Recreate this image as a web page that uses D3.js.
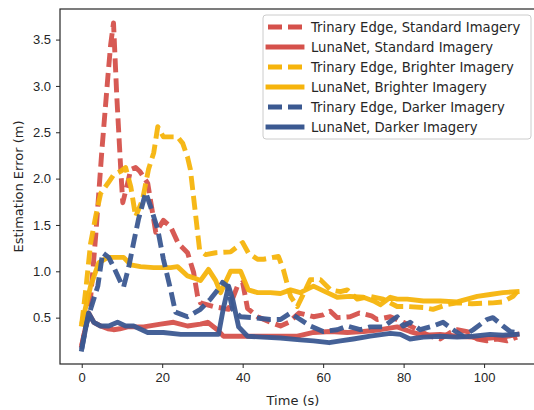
<!DOCTYPE html>
<html>
<head>
<meta charset="utf-8">
<script src="https://cdn.jsdelivr.net/npm/d3@7"></script>
<style>
	body { margin: 0; background: #fff; }
	svg { display: block; font-family: "DejaVu Sans", sans-serif; }
	.axis text { font-size: 13px; fill: #262626; }
	.axis line { stroke: #262626; }
	.axis path { display: none; }
</style>
</head>
<body>
<svg id="chart" width="534" height="410"></svg>
<script>
'use strict';

// [time (s), estimation error (m)]
var trinaryStandard = [[0,0.2],[2,0.6],[3.5,1.4],[5,2.3],[6.5,3.1],[7.2,3.45],[7.9,3.68],[8.7,2.9],[9.7,2.1],
	[10.2,1.74],[11.4,1.95],[12.2,2.1],[13.4,2.12],[14.4,2.08],[16.4,1.95],[18.4,1.42],[20.3,1.55],[22.1,1.48],
	[24,1.3],[26.3,1.2],[27.8,0.99],[28.8,0.73],[29.5,0.66],[32.8,0.62],[36.5,0.59],[38.7,0.84],[40,0.88],
	[41.2,0.6],[43.7,0.51],[46.9,0.45],[49.4,0.41],[51.5,0.45],[54,0.55],[57.6,0.51],[60,0.53],[61.8,0.57],
	[63.5,0.5],[66.7,0.51],[69,0.55],[72,0.52],[73.4,0.48],[76.7,0.51],[79.9,0.45],[83.4,0.37],[86.6,0.3],
	[89.1,0.27],[91.6,0.34],[93.3,0.37],[95.8,0.35],[98.3,0.27],[100.7,0.25],[103.2,0.27],[105.7,0.25],[108.2,0.29]];

var lunaStandard = [[0,0.2],[1.7,0.55],[3,0.45],[4.7,0.41],[6.5,0.38],[7.9,0.37],[9.5,0.38],[11.4,0.4],
	[15.4,0.4],[19.6,0.43],[22.8,0.45],[26.3,0.41],[29.5,0.43],[31.3,0.45],[33.7,0.37],[35.2,0.3],[39.5,0.3],
	[45,0.3],[53.6,0.3],[57.6,0.34],[61.8,0.35],[66,0.34],[70,0.35],[74.2,0.37],[78.4,0.4],[81.6,0.35],
	[84.9,0.31],[89.1,0.32],[93.3,0.3],[97,0.29],[99,0.27],[101.5,0.28],[104.7,0.29],[108.2,0.32]];

var trinaryBright = [[0,0.43],[1,0.8],[2.2,1.3],[3.5,1.6],[4.7,1.84],[6.5,1.95],[7.9,2.04],[9.7,2.08],
	[10.9,2.12],[12.2,1.91],[13.4,1.59],[15.1,1.77],[16.6,2.1],[17.9,2.28],[18.9,2.56],[20.3,2.45],[23.8,2.45],
	[25.1,2.38],[26.3,2.23],[27,2.1],[27.8,1.8],[28.8,1.42],[29.3,1.23],[30.8,1.18],[33.3,1.2],[37,1.21],
	[40,1.31],[41.4,1.2],[43.7,1.13],[45.2,1.13],[47.6,1.15],[48.9,1.16],[50.1,1.02],[51.9,0.73],[53.6,0.62],
	[56.8,0.91],[59.3,0.91],[61.8,0.8],[64.3,0.78],[66,0.8],[68.5,0.7],[71.7,0.73],[74.9,0.7],[78.4,0.62],
	[80.9,0.62],[84.9,0.61],[87.3,0.59],[90.8,0.64],[93.3,0.66],[97,0.65],[102.2,0.66],[104.7,0.67],
	[107.2,0.73],[108.2,0.78]];

var lunaBright = [[0,0.43],[2.2,0.84],[4.2,1.09],[6.5,1.15],[8.9,1.15],[10.4,1.15],[12.2,1.07],[14.6,1.05],
	[17.9,1.04],[22.1,1.04],[23.8,1.05],[26.3,0.95],[27.8,0.93],[29.5,0.9],[31.5,1.02],[33.3,0.9],[34.5,0.77],
	[35.7,0.88],[37,1.0],[39.5,1.0],[41.4,0.8],[43.7,0.77],[46.9,0.77],[49.4,0.76],[51.9,0.8],[54.3,0.77],
	[57.6,0.84],[61,0.77],[63.5,0.72],[66.7,0.73],[70,0.72],[72.5,0.68],[74.2,0.64],[76.7,0.72],[78.4,0.7],
	[80.9,0.7],[84.9,0.68],[89.1,0.68],[93.3,0.67],[95.8,0.7],[98.3,0.73],[101.5,0.75],[104.7,0.77],[108.2,0.78]];

var trinaryDark = [[0,0.16],[1,0.4],[2.2,0.59],[4,0.84],[5.2,1.2],[6.7,1.15],[7.9,1.05],[9.7,0.88],
	[10.4,0.83],[11.7,1.05],[12.9,1.31],[14.1,1.56],[15.9,1.85],[17.1,1.7],[18.9,1.45],[20.3,1.13],[22.1,0.8],
	[23.3,0.56],[26.3,0.51],[29.5,0.59],[32,0.7],[34.5,0.84],[35,0.88],[36.2,0.84],[37.5,0.59],[39.5,0.51],
	[42.7,0.5],[46.9,0.48],[49.4,0.48],[51.9,0.55],[54.3,0.48],[56.8,0.41],[60,0.35],[63.5,0.37],[66,0.41],
	[69.2,0.37],[71.7,0.4],[74.9,0.4],[77.4,0.48],[78.4,0.51],[79.9,0.41],[81.6,0.45],[84.1,0.37],[87.3,0.41],
	[89.8,0.45],[92.3,0.37],[94.8,0.3],[97.3,0.37],[100.7,0.48],[102.2,0.5],[104.7,0.41],[106.5,0.35],[108.2,0.34]];

var lunaDark = [[0,0.16],[1.7,0.55],[3,0.45],[4.7,0.41],[6.7,0.41],[8.9,0.45],[10.9,0.41],[12.9,0.41],
	[16.4,0.34],[20.3,0.34],[24.6,0.32],[28.8,0.32],[34,0.32],[35.2,0.6],[36.5,0.84],[37.5,0.7],[39,0.4],
	[41.2,0.3],[45,0.29],[49.4,0.28],[54.3,0.26],[57.6,0.25],[61.5,0.23],[64.3,0.25],[67.5,0.27],[71.7,0.3],
	[76.7,0.33],[79.2,0.32],[81.6,0.27],[84.9,0.29],[89.1,0.3],[93.3,0.29],[97.3,0.3],[101.5,0.32],
	[104.7,0.31],[108.2,0.32]];

var seriesNames = ['Trinary Edge, Standard Imagery', 'LunaNet, Standard Imagery',
	'Trinary Edge, Brighter Imagery', 'LunaNet, Brighter Imagery',
	'Trinary Edge, Darker Imagery', 'LunaNet, Darker Imagery'];
var xTicks = [0, 20, 40, 60, 80, 100];
var yTicks = [0.5, 1.0, 1.5, 2.0, 2.5, 3.0, 3.5];

(function () {
	var red = '#d5514b', yellow = '#f6b40c', blue = '#3b5991';
	var series = [
		{ name: seriesNames[0], data: trinaryStandard, color: red, dashed: true },
		{ name: seriesNames[1], data: lunaStandard, color: red, dashed: false },
		{ name: seriesNames[2], data: trinaryBright, color: yellow, dashed: true },
		{ name: seriesNames[3], data: lunaBright, color: yellow, dashed: false },
		{ name: seriesNames[4], data: trinaryDark, color: blue, dashed: true },
		{ name: seriesNames[5], data: lunaDark, color: blue, dashed: false }
	];

	// plot box in pixels; the right spine sits just past the picture edge
	var box = { left: 60, right: 538, top: 9, bottom: 364 };
	var lineWidth = 4.9, dash = '14,6';

	var x = d3.scaleLinear().domain([-5.4, 113.4]).range([box.left, box.right]);
	var y = d3.scaleLinear().domain([0.0, 3.83]).range([box.bottom, box.top]);

	var svg = d3.select('#chart');

	svg.append('defs').append('clipPath')
		.attr('id', 'clip')
		.append('rect')
		.attr('x', box.left).attr('y', box.top)
		.attr('width', box.right - box.left).attr('height', box.bottom - box.top);

	var line = d3.line()
		.x(function (d) { return x(d[0]); })
		.y(function (d) { return y(d[1]); });

	var plot = svg.append('g').attr('clip-path', 'url(#clip)');
	series.forEach(function (s) {
		plot.append('path')
			.datum(s.data)
			.attr('d', line)
			.attr('fill', 'none')
			.attr('stroke', s.color)
			.attr('stroke-width', lineWidth)
			.attr('stroke-linejoin', 'round')
			.attr('stroke-linecap', s.dashed ? 'butt' : 'square')
			.attr('stroke-dasharray', s.dashed ? dash : null)
			.attr('opacity', 0.95);
	});

	// axes
	svg.append('g')
		.attr('class', 'x axis')
		.attr('transform', 'translate(0,' + box.bottom + ')')
		.call(d3.axisBottom(x).tickValues(xTicks).tickSizeInner(4).tickSizeOuter(0).tickPadding(5));

	svg.append('g')
		.attr('class', 'y axis')
		.attr('transform', 'translate(' + box.left + ',0)')
		.call(d3.axisLeft(y).tickValues(yTicks).tickFormat(d3.format('.1f'))
			.tickSizeInner(4).tickSizeOuter(0).tickPadding(5));

	// frame (all four spines)
	svg.append('rect')
		.attr('x', box.left).attr('y', box.top)
		.attr('width', box.right - box.left).attr('height', box.bottom - box.top)
		.attr('fill', 'none')
		.attr('stroke', '#262626')
		.attr('stroke-width', 1.2);

	svg.append('text')
		.attr('x', (box.left + box.right) / 2 - 6)
		.attr('y', 405)
		.attr('text-anchor', 'middle')
		.attr('font-size', 13)
		.attr('fill', '#262626')
		.text('Time (s)');

	svg.append('text')
		.attr('transform', 'translate(23,' + (box.top + box.bottom) / 2 + ') rotate(-90)')
		.attr('text-anchor', 'middle')
		.attr('font-size', 13)
		.attr('fill', '#262626')
		.text('Estimation Error (m)');

	// legend
	var legend = svg.append('g').attr('class', 'legend');
	legend.append('rect')
		.attr('x', 263).attr('y', 15)
		.attr('width', 268).attr('height', 124)
		.attr('rx', 3)
		.attr('fill', '#fff').attr('fill-opacity', 0.8)
		.attr('stroke', '#cccccc');

	series.forEach(function (s, i) {
		var ly = 27 + i * 20;
		legend.append('line')
			.attr('x1', 268).attr('x2', 302)
			.attr('y1', ly).attr('y2', ly)
			.attr('stroke', s.color)
			.attr('stroke-width', lineWidth)
			.attr('stroke-linecap', s.dashed ? 'butt' : 'square')
			.attr('stroke-dasharray', s.dashed ? dash : null);
		legend.append('text')
			.attr('x', 311).attr('y', ly)
			.attr('dy', '0.35em')
			.attr('font-size', 13.2)
			.attr('fill', '#262626')
			.text(s.name);
	});
}());
</script>
</body>
</html>
